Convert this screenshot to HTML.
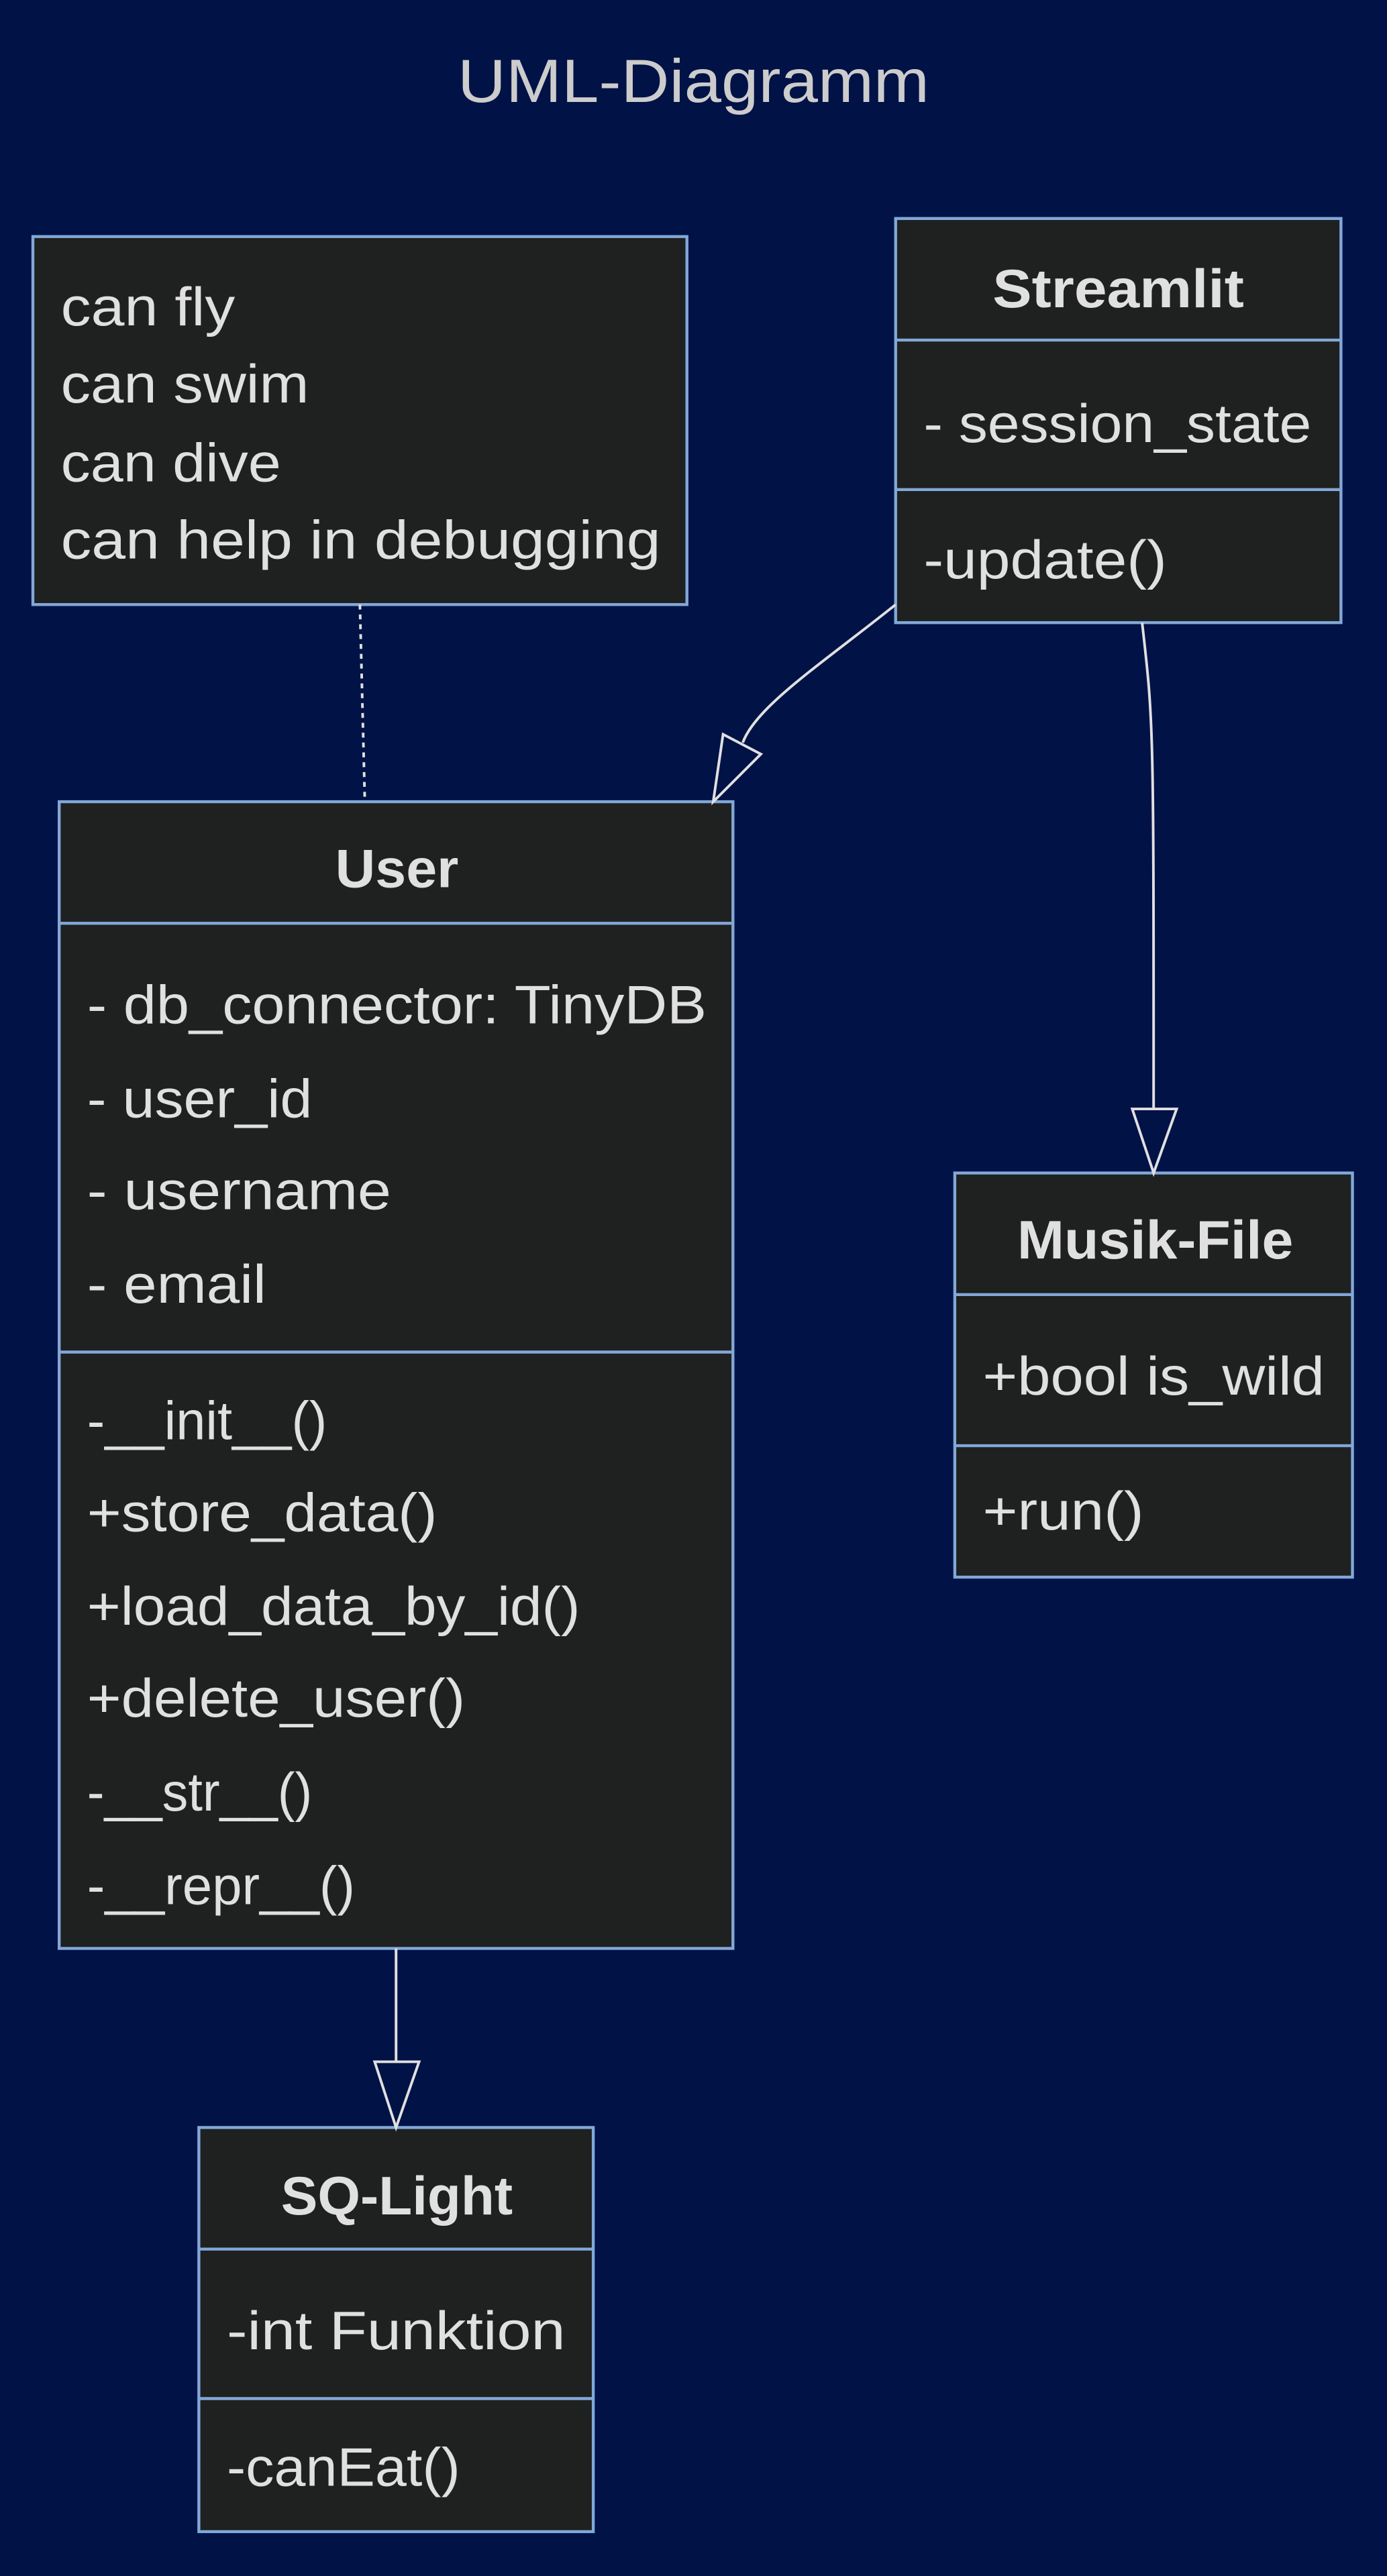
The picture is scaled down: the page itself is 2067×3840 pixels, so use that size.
<!DOCTYPE html>
<html><head><meta charset="utf-8"><style>
html,body{margin:0;padding:0;background:#001246;}
svg{display:block;}
text{font-family:"Liberation Sans",sans-serif;fill:#e0e0e0;}
.b{font-weight:bold;}
</style></head><body>
<svg width="2067" height="3840" viewBox="0 0 844 1568" xmlns="http://www.w3.org/2000/svg">
<rect width="844" height="1568" fill="#001246"/>
<text x="422" y="62" text-anchor="middle" font-size="37" textLength="287" lengthAdjust="spacingAndGlyphs" style="fill:#cccccc">UML-Diagramm</text>
<g fill="#1f2020" stroke="#81a8d8" stroke-width="1.8">
<rect x="20" y="144" width="398" height="224"/>
<rect x="545" y="133" width="271" height="246"/>
<rect x="36" y="488" width="410" height="698"/>
<rect x="581" y="714" width="242" height="246"/>
<rect x="121" y="1295" width="240" height="246"/>
</g>
<g stroke="#81a8d8" stroke-width="1.8">
<line x1="545" y1="207" x2="816" y2="207"/><line x1="545" y1="298" x2="816" y2="298"/>
<line x1="36" y1="562" x2="446" y2="562"/><line x1="36" y1="823" x2="446" y2="823"/>
<line x1="581" y1="788" x2="823" y2="788"/><line x1="581" y1="880" x2="823" y2="880"/>
<line x1="121" y1="1369" x2="361" y2="1369"/><line x1="121" y1="1460" x2="361" y2="1460"/>
</g>
<g fill="none" stroke="#e0e0e0" stroke-width="1.6">
<path d="M219 368 L222 488" stroke-dasharray="3,3"/>
<path d="M545 368 C500 404 460 430 452 452"/>
<path d="M434 488 L440 447 L463 459 Z"/>
<path d="M695 379 C702 440 702 440 702 675"/>
<path d="M689 675 L716 675 L702 714 Z"/>
<path d="M241 1186 L241 1255"/>
<path d="M228 1255 L255 1255 L241 1295 Z"/>
</g>
<g font-size="33" lengthAdjust="spacingAndGlyphs">
<text x="37" y="198" textLength="106" lengthAdjust="spacingAndGlyphs">can fly</text>
<text x="37" y="245" textLength="151" lengthAdjust="spacingAndGlyphs">can swim</text>
<text x="37" y="293" textLength="134" lengthAdjust="spacingAndGlyphs">can dive</text>
<text x="37" y="340" textLength="365" lengthAdjust="spacingAndGlyphs">can help in debugging</text>
<text class="b" x="604" y="187" textLength="153" lengthAdjust="spacingAndGlyphs">Streamlit</text>
<text x="562" y="269" textLength="236" lengthAdjust="spacingAndGlyphs">- session_state</text>
<text x="562" y="352" textLength="148" lengthAdjust="spacingAndGlyphs">-update()</text>
<text class="b" x="204" y="540" textLength="75" lengthAdjust="spacingAndGlyphs">User</text>
<text x="53" y="623" textLength="377" lengthAdjust="spacingAndGlyphs">- db_connector: TinyDB</text>
<text x="53" y="680" textLength="137" lengthAdjust="spacingAndGlyphs">- user_id</text>
<text x="53" y="736" textLength="185" lengthAdjust="spacingAndGlyphs">- username</text>
<text x="53" y="793" textLength="109" lengthAdjust="spacingAndGlyphs">- email</text>
<text x="53" y="876" textLength="146" lengthAdjust="spacingAndGlyphs">-__init__()</text>
<text x="53" y="932" textLength="213" lengthAdjust="spacingAndGlyphs">+store_data()</text>
<text x="53" y="989" textLength="300" lengthAdjust="spacingAndGlyphs">+load_data_by_id()</text>
<text x="53" y="1045" textLength="230" lengthAdjust="spacingAndGlyphs">+delete_user()</text>
<text x="53" y="1102" textLength="137" lengthAdjust="spacingAndGlyphs">-__str__()</text>
<text x="53" y="1159" textLength="163" lengthAdjust="spacingAndGlyphs">-__repr__()</text>
<text class="b" x="619" y="766" textLength="168" lengthAdjust="spacingAndGlyphs">Musik-File</text>
<text x="598" y="849" textLength="208" lengthAdjust="spacingAndGlyphs">+bool is_wild</text>
<text x="598" y="931" textLength="98" lengthAdjust="spacingAndGlyphs">+run()</text>
<text class="b" x="171" y="1348" textLength="141" lengthAdjust="spacingAndGlyphs">SQ-Light</text>
<text x="138" y="1430" textLength="206" lengthAdjust="spacingAndGlyphs">-int Funktion</text>
<text x="138" y="1513" textLength="142" lengthAdjust="spacingAndGlyphs">-canEat()</text>
</g>
</svg>
</body></html>
